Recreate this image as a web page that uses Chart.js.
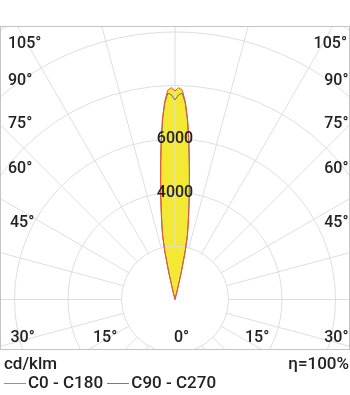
<!DOCTYPE html>
<html>
<head>
<meta charset="utf-8">
<script src="https://cdn.jsdelivr.net/npm/chart.js@4.4.1/dist/chart.umd.min.js"></script>
<style>
  body { margin: 0; background: #fff; font-family: Roboto, "Noto Sans", sans-serif; color: #222; }
  #wrap { position: relative; width: 350px; height: 395px; overflow: hidden; }
  #box { position: absolute; left: 0; top: 26px; width: 348px; height: 322px; border: 1px solid #c4c4c4; }
  #box canvas { display: block; }
  .ang { position: absolute; font-size: 16px; line-height: 16px; height: 16px; white-space: nowrap; font-weight: 500; }
  .leg { position: absolute; font-size: 17px; line-height: 18px; white-space: nowrap; font-weight: 500; }
  .mark { display: inline-block; width: 22px; height: 1px; vertical-align: middle; margin: 0 2px 0 0; }
</style>
</head>
<body>
<div id="wrap">
  <div id="box"><canvas id="c" width="348" height="322"></canvas></div>
  <div id="angles"></div>
  <div class="leg" style="left:4px;top:354px" id="unit"></div>
  <div class="leg" style="right:1px;top:354px" id="eta"></div>
  <div class="leg" style="left:4px;top:373px" id="legend"></div>
</div>
<script>
// gamma angles (deg from beam axis) and intensities in cd/klm
const gammaAngles = [0, 1, 2, 3, 4, 5, 6, 7, 8, 9, 10, 11, 12, 13, 14, 15];
const c0c180  = [7800, 7920, 7830, 7400, 6760, 5950, 5150, 4450, 3850, 3300, 2850, 2450, 1850, 1050, 300, 0];
const c90c270 = [7460, 7650, 7720, 7350, 6700, 5900, 5100, 4400, 3800, 3250, 2800, 2400, 1800, 1000, 280, 0];
const seriesNames = ["C0 - C180", "C90 - C270"];
const seriesColors = ["#ef5438", "#6e6e6e"];
const ringLabels = [4000, 6000];
const rMax = 12000, rStep = 2000;
const leftLabels = ["105°", "90°", "75°", "60°", "45°", "30°"];
const bottomLabels = ["15°", "0°", "15°"];
const unitText = "cd/klm", etaText = "η=100%";

// 1 degree steps all the way round, mirrored about the beam axis
const labels = Array.from({ length: 360 }, (_, i) => i);
function spread(vals) {
    return labels.map(a => {
        const k = gammaAngles.indexOf(Math.min(a, 360 - a));
        return k < 0 ? 0 : vals[k];
    });
}

// pole sits low in the frame, rings are clipped by the box
const CX = 174, CY = 272.5, RPX = 321;
const GRID = "#dedede";

const gridOverFill = {
    id: "gridOverFill",
    beforeDatasetsDraw(chart) {
        const s = chart.scales.r, ctx = chart.ctx;
        ctx.save();
        ctx.strokeStyle = GRID;
        ctx.lineWidth = 1;
        for (let v = rStep; v <= rMax; v += rStep) {
            ctx.beginPath();
            ctx.arc(s.xCenter, s.yCenter, s.getDistanceFromCenterForValue(v), 0, Math.PI * 2);
            ctx.stroke();
        }
        const r0 = s.getDistanceFromCenterForValue(rStep), r1 = s.getDistanceFromCenterForValue(rMax);
        for (let i = 0; i < labels.length; i += 15) {
            const a = s.getPointPosition(i, r0), b = s.getPointPosition(i, r1);
            ctx.beginPath();
            ctx.moveTo(a.x, a.y);
            ctx.lineTo(b.x, b.y);
            ctx.stroke();
        }
        ctx.restore();
    }
};

new Chart(document.getElementById("c"), {
    type: "radar",
    data: {
        labels,
        datasets: [
            { label: seriesNames[0], data: spread(c0c180), borderColor: seriesColors[0], backgroundColor: "#f3e834",
              borderWidth: 1, fill: true, pointRadius: 0, order: 0 },
            { label: seriesNames[1], data: spread(c90c270), borderColor: seriesColors[1], backgroundColor: "rgba(0,0,0,0)",
              borderWidth: 1, fill: false, pointRadius: 0, order: 1 }
        ]
    },
    options: {
        responsive: false,
        animation: false,
        devicePixelRatio: 1,
        layout: { padding: 0 },
        elements: { line: { tension: 0 } },
        plugins: { legend: { display: false }, tooltip: { enabled: false }, filler: { drawTime: "beforeDatasetsDraw" } },
        scales: {
            r: {
                min: 0, max: rMax,
                ticks: {
                    stepSize: rStep, z: 1, showLabelBackdrop: false, color: "#222",
                    font: { family: "Roboto", size: 16, weight: "500" },
                    callback: v => ringLabels.includes(v) ? String(v) : ""
                },
                grid: { display: false },
                angleLines: { display: false },
                pointLabels: { display: false },
                afterFit: s => { s.xCenter = CX; s.yCenter = CY; s.drawingArea = RPX; }
            }
        }
    },
    plugins: [gridOverFill]
});

// angle captions round the frame
const angles = document.getElementById("angles");
const sideY = [42.5, 80, 122.5, 168, 222, 337];
const sideX = [8, 8, 8, 8, 10, 10.5];
leftLabels.forEach((t, i) => {
    angles.insertAdjacentHTML("beforeend",
        `<div class="ang" style="left:${sideX[i]}px;top:${sideY[i] - 8}px">${t}</div>` +
        `<div class="ang" style="right:${i === 0 ? 3 : 1.5}px;top:${sideY[i] - 8}px">${t}</div>`);
});
const botX = [93, 174, 245];
bottomLabels.forEach((t, i) => {
    angles.insertAdjacentHTML("beforeend", `<div class="ang" style="left:${botX[i]}px;top:${337 - 8}px">${t}</div>`);
});

document.getElementById("unit").textContent = unitText;
document.getElementById("eta").textContent = etaText;
document.getElementById("legend").innerHTML =
    `<span class="mark" style="background:#f26a6a"></span>${seriesNames[0]} ` +
    `<span class="mark" style="background:#7a7a7a"></span>${seriesNames[1]}`;
</script>
</body>
</html>
